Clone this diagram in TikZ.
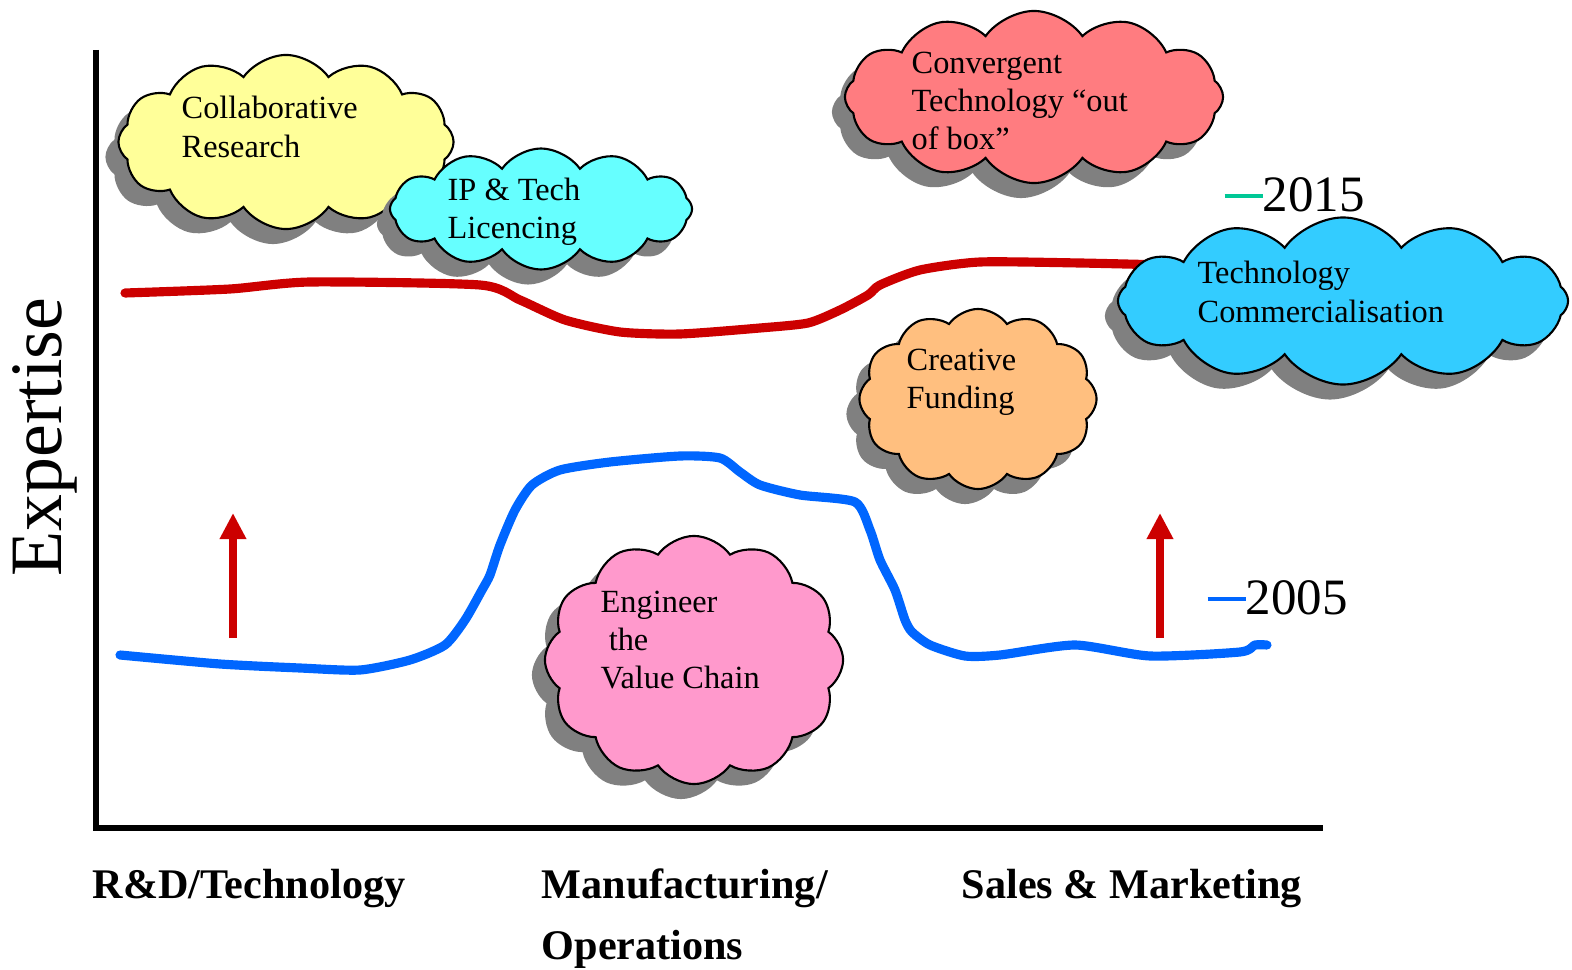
\documentclass[tikz,border=0pt]{standalone}
\usepackage{fontspec}
\setmainfont{Liberation Serif}
\usepackage{xcolor}
\usepackage{tikz}
\usetikzlibrary{arrows.meta,positioning,shapes.symbols,shadows}
\definecolor{collabyellow}{HTML}{FFFF99}
\definecolor{ipcyan}{HTML}{66FFFF}
\definecolor{convsalmon}{HTML}{FF7C80}
\definecolor{commblue}{HTML}{33CCFF}
\definecolor{fundpeach}{HTML}{FFBF7F}
\definecolor{chainpink}{HTML}{FF99CC}
\definecolor{shadowgray}{HTML}{808080}
\definecolor{line2015red}{HTML}{CC0000}
\definecolor{line2005blue}{HTML}{0066FF}
\definecolor{legendgreen}{HTML}{00C896}
\newcommand\cloudfont{\fontsize{9.2}{10.9}\selectfont}

\begin{document}
\begin{tikzpicture}[x=0.01cm,y=-0.01cm,
    idea/.style={cloud,cloud puffs=12,cloud puff arc=110,cloud ignores aspect,draw,semithick,inner sep=0pt,
      drop shadow={shadow xshift=-0.13cm,shadow yshift=-0.15cm,fill=shadowgray,opacity=1}},
    ideatext/.style={anchor=west,inner sep=0pt,align=left,font=\cloudfont},
    trend/.style={line width=2.6pt,line cap=round,line join=round},
    risearrow/.style={draw=line2015red,line width=2pt,-{Triangle[width=0.25cm,length=0.26cm]}},
    stage/.style={anchor=west,inner sep=0pt,font=\fontsize{12}{17.3}\selectfont\bfseries}]
    \useasboundingbox (0,0) rectangle (1572,970);
    % axes
    \draw[line width=1.8pt] (96,50) -- (96,828) -- (1323,828);
    \node[rotate=90,font=\fontsize{21}{24}\selectfont] (expertise) at (45,437) {Expertise};
    \node[stage] (rnd) at (92,889) {R\&D/Technology};
    \node[stage,align=left] (manuf) at (541,919) {Manufacturing/\\Operations};
    \node[stage] (sales) at (961,889) {Sales \& Marketing};
    % trend lines
    \draw[trend,line2015red] plot[smooth,tension=0.4] coordinates {(125,293) (230,289) (310,282) (480,285) (520,300) (565,320) (620,332) (680,334) (760,328) (808,323) (840,310) (868,295) (880,285) (920,270) (980,262) (1080,263) (1165,265)};
    \draw[trend,line2005blue] plot[smooth,tension=0.4] coordinates {(120,655) (220,664) (300,668) (360,670) (410,660) (445,645) (465,620) (482,590) (490,575) (500,545) (515,510) (532,485) (560,470) (610,462) (680,456) (720,458) (740,472) (760,485) (800,495) (855,502) (870,530) (880,560) (895,590) (905,620) (912,632) (930,645) (965,656) (1000,655) (1075,645) (1150,656) (1240,652) (1255,645) (1267,645)};
    % rising arrows
    \coordinate (rndtail) at (233,638);
    \coordinate (rndtip) at (233,513);
    \coordinate (salestail) at (1160,638);
    \coordinate (salestip) at (1160,513);
    \draw[risearrow] (rndtail) -- (rndtip);
    \draw[risearrow] (salestail) -- (salestip);
    % year keys
    \node[anchor=west,inner sep=0pt,font=\fontsize{14.5}{16}\selectfont] (y2015) at (1224,195) {\textcolor{legendgreen}{\rule[0.27em]{0.75em}{0.075em}}2015};
    \node[anchor=west,inner sep=0pt,font=\fontsize{14.5}{16}\selectfont] (y2005) at (1207,598) {\textcolor{line2005blue}{\rule[0.27em]{0.75em}{0.075em}}2005};
    % clouds
    \node[idea,fill=collabyellow,minimum width=3.35cm,minimum height=1.74cm] (collab) at (286,142) {};
    \node[ideatext] (collabtext) at (181,127) {Collaborative\\Research};
    \node[idea,fill=ipcyan,minimum width=3.02cm,minimum height=1.21cm] (iplic) at (541,209) {};
    \node[ideatext] (iplictext) at (447,212) {IP \& Tech\\Licencing};
    \node[idea,fill=convsalmon,minimum width=3.78cm,minimum height=1.72cm] (converge) at (1034,97) {};
    \node[ideatext] (convergetext) at (911,101) {Convergent\\Technology “out\\of box”};
    \node[idea,fill=commblue,minimum width=4.5cm,minimum height=1.67cm] (commerce) at (1343,301) {};
    \node[ideatext] (commercetext) at (1197,292) {Technology\\Commercialisation};
    \node[idea,fill=fundpeach,minimum width=2.37cm,minimum height=1.8cm] (funding) at (978,399) {};
    \node[ideatext] (fundingtext) at (906,382) {Creative\\Funding};
    \node[idea,fill=chainpink,minimum width=2.98cm,minimum height=2.48cm] (valuechain) at (694,660) {};
    \node[ideatext] (valuechaintext) at (600,640) {Engineer\\\ the\\Value Chain};
  \end{tikzpicture}
\end{document}
